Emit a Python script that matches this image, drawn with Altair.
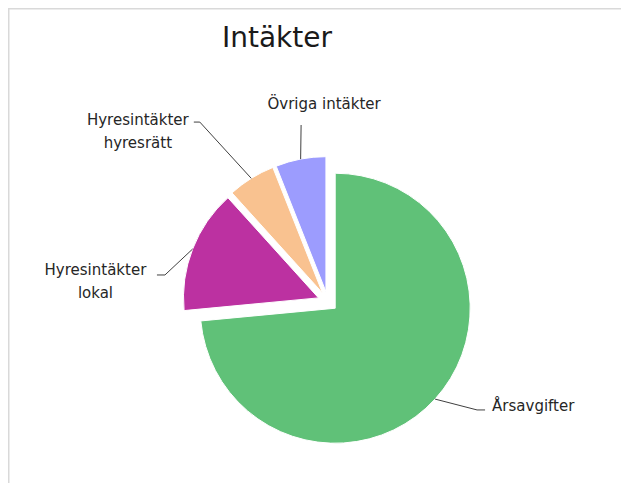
import altair as alt
import pandas as pd
import numpy as np

# ---- data ----
CATEGORIES = ["Årsavgifter", "Hyresintäkter lokal", "Hyresintäkter hyresrätt", "Övriga intäkter"]
VALUES = [73.5, 14.8, 5.7, 6.0]
LABELS = ["Årsavgifter", "Hyresintäkter\nlokal", "Hyresintäkter\nhyresrätt", "Övriga intäkter"]
COLORS = ["#60c178", "#bc31a1", "#f9c290", "#9c9cfe"]
TITLE = "Intäkter"

# ---- layout / style ----
W, H = 613, 475
CX, CY, R = 319.8, 293.5, 135
EXPLODE = [10, 10, 10, 10]
ELBOW = [(126, 184.5), (279.25, 165), (324.5, 220.4), (351.4, 178.5)]   # polar (deg, px) from centre
TAIL = [8, -8, -6, 0]
TEXT_OFF = [(15, -4, "left"), (-69.5, -5, "center"), (-62, -2, "center"), (23, -21, "center")]
FONT = "DejaVu Sans"

vals = np.array(VALUES, dtype=float)
frac = vals / vals.sum()
t1 = np.cumsum(frac) * 2 * np.pi
t0 = t1 - frac * 2 * np.pi
mid = (t0 + t1) / 2

arc_rows, line_rows, text_rows = [], [], []
for i, cat in enumerate(CATEGORIES):
    e = EXPLODE[i]
    scx = CX + e * np.sin(mid[i])
    scy = CY - e * np.cos(mid[i])
    arc_rows.append(dict(category=cat, t0=t0[i], t1=t1[i], cx=scx, cy=scy))
    ex, ey = scx + R * np.sin(mid[i]), scy - R * np.cos(mid[i])
    a, r = ELBOW[i]
    bx, by = CX + r * np.sin(np.radians(a)), CY - r * np.cos(np.radians(a))
    pts = [(ex, ey), (bx, by), (bx + TAIL[i], by)]
    for k, (px, py) in enumerate(pts):
        line_rows.append(dict(category=cat, k=k, x=px, y=py))
    dx, dy, al = TEXT_OFF[i]
    text_rows.append(dict(category=cat, label=LABELS[i], x=bx + dx, y=by + dy, align=al))

arc_df = pd.DataFrame(arc_rows)
line_df = pd.DataFrame(line_rows)
text_df = pd.DataFrame(text_rows)

X = lambda f: alt.X(f, type="quantitative", scale=None, axis=None)
Y = lambda f: alt.Y(f, type="quantitative", scale=None, axis=None)

pie = alt.Chart(arc_df).mark_arc(radius=R, stroke="white", strokeWidth=1).encode(
    x=X("cx"), y=Y("cy"),
    theta=alt.Theta("t0:Q", scale=None),
    theta2="t1:Q",
    color=alt.Color("category:N", scale=alt.Scale(domain=CATEGORIES, range=COLORS), legend=None),
)

leaders = alt.Chart(line_df).mark_line(color="#404040", strokeWidth=1).encode(
    x=X("x"), y=Y("y"), detail="category:N", order="k:O"
)

def text_layer(al):
    return alt.Chart(text_df[text_df["align"] == al]).mark_text(
        font=FONT, fontSize=15, lineBreak="\n", lineHeight=23, baseline="middle",
        align=al, color="#262626"
    ).encode(x=X("x"), y=Y("y"), text="label:N")

title = alt.Chart(pd.DataFrame({"t": [TITLE]})).mark_text(
    font=FONT, fontSize=28, align="center", baseline="middle", color="#1a1a1a"
).encode(x=alt.value(269), y=alt.value(31), text="t:N")

border_df = pd.DataFrame({"a": [0]})
top_line = alt.Chart(border_df).mark_rule(color="#d9d9d9", strokeWidth=1.5).encode(
    x=alt.value(0), x2=alt.value(700), y=alt.value(0.75)
)
left_line = alt.Chart(border_df).mark_rule(color="#d9d9d9", strokeWidth=1.5).encode(
    x=alt.value(0.75), y=alt.value(0), y2=alt.value(600)
)

chart = alt.layer(
    top_line, left_line, pie, leaders, text_layer("left"), text_layer("center"), title
).properties(
    width=W, height=H, padding=0, autosize="none"
).configure_view(stroke=None)

chart.save("out.html", embed_options={"renderer": "svg", "actions": False})
